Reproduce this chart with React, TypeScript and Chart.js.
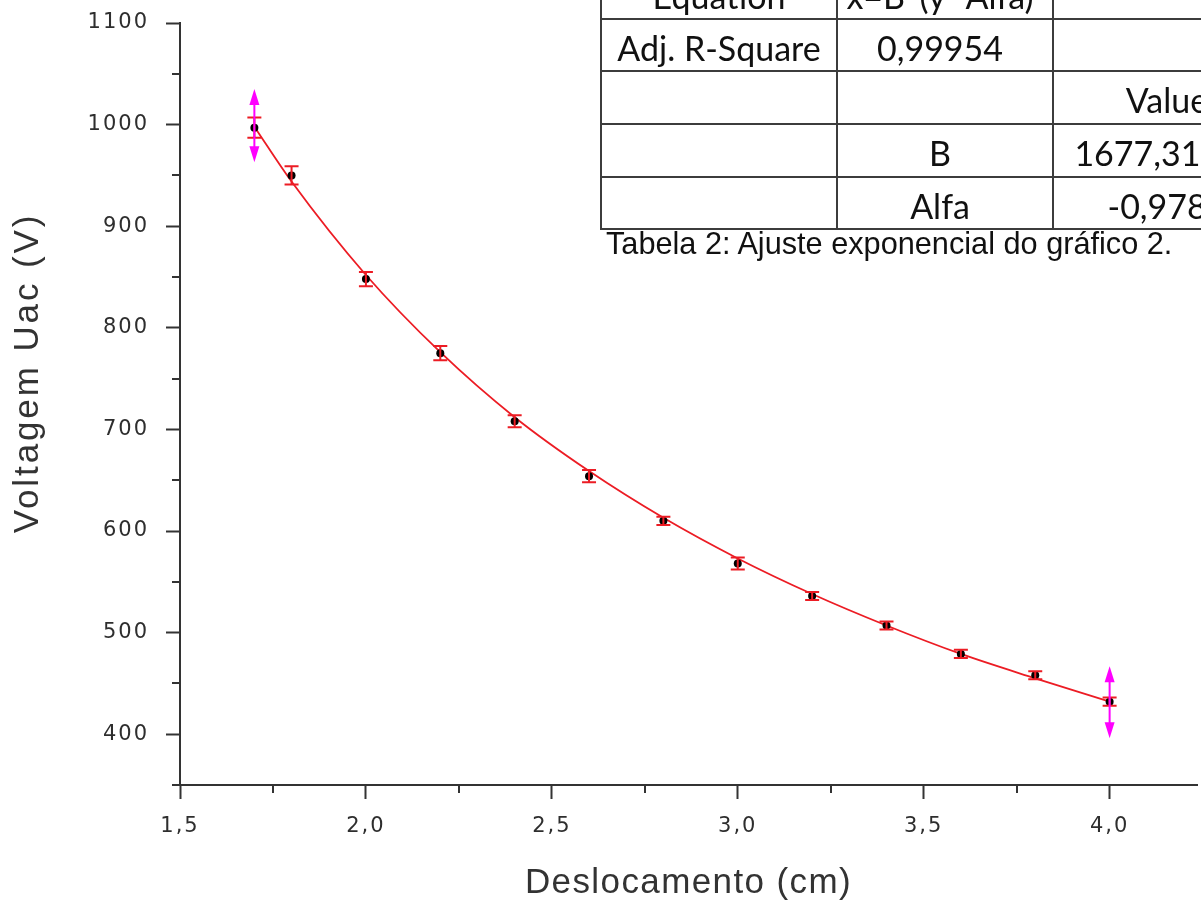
import React, { useEffect, useRef } from 'react';
import { Chart, registerables } from 'chart.js';

Chart.register(...registerables);

// ---- data ----
const displacement = [1.7, 1.8, 2.0, 2.2, 2.4, 2.6, 2.8, 3.0, 3.2, 3.4, 3.6, 3.8, 4.0];
const voltage = [997, 950, 848, 775, 708, 654, 610, 568, 536, 507, 479, 458, 432];
const voltageError = [10, 9, 7, 7, 6, 6, 4, 6, 4, 4, 4, 4, 4];
// red fitted curve, read at the same abscissas
const fitVoltage = [998, 944, 852, 776, 712, 659, 613, 573, 538, 507, 479, 455, 432];

const xMajorTicks = [1.5, 2.0, 2.5, 3.0, 3.5, 4.0];
const xMinorTicks = [1.75, 2.25, 2.75, 3.25, 3.75, 4.25];
const yMajorTicks = [400, 500, 600, 700, 800, 900, 1000, 1100];
const yMinorTicks = [350, 450, 550, 650, 750, 850, 950, 1050];

// magenta double-arrow markers at the ends of the fitted range
const markerX = [1.7, 4.0];
const markerTop = [1035, 467];
const markerBottom = [963, 396];

// fit-results table (text)
const tableRows = [
  ['Equation', 'x=B*(y^Alfa)', ''],
  ['Adj. R-Square', '0,99954', ''],
  ['', '', 'Value'],
  ['', 'B', '1677,31605'],
  ['', 'Alfa', '-0,9782'],
];
const tableCaption = 'Tabela 2: Ajuste exponencial do gráfico 2.';

const AXIS_COLOR = '#333333';
const LABEL_COLOR = '#2e2e2e';
const RED = '#ec1c24';
const MAGENTA = '#ff00ff';

function patchScale(scale: any, labelSpacing: string, titleSpacing: string, titleShiftY: number) {
  if (scale.__patched) return;
  scale.__patched = true;
  const origLabels = scale.drawLabels;
  const origTitle = scale.drawTitle;
  scale.drawLabels = function (area: any) {
    const ctx = this.ctx;
    ctx.save();
    ctx.letterSpacing = labelSpacing;
    origLabels.call(this, area);
    ctx.restore();
  };
  scale.drawTitle = function () {
    const ctx = this.ctx;
    ctx.save();
    ctx.letterSpacing = titleSpacing;
    ctx.translate(0, titleShiftY);
    origTitle.call(this);
    ctx.restore();
  };
}

const errorBarsPlugin = {
  id: 'errorBars',
  afterDatasetsDraw(chart: any) {
    const { ctx, scales } = chart;
    const xs = scales.x;
    const ys = scales.y;
    ctx.save();
    ctx.strokeStyle = RED;
    ctx.lineWidth = 2;
    displacement.forEach((xv, i) => {
      const px = xs.getPixelForValue(xv);
      const top = ys.getPixelForValue(voltage[i] + voltageError[i]);
      const bot = ys.getPixelForValue(voltage[i] - voltageError[i]);
      ctx.beginPath();
      ctx.moveTo(px, top);
      ctx.lineTo(px, bot);
      ctx.moveTo(px - 7, top);
      ctx.lineTo(px + 7, top);
      ctx.moveTo(px - 7, bot);
      ctx.lineTo(px + 7, bot);
      ctx.stroke();
    });
    ctx.restore();
  },
};

const markersPlugin = {
  id: 'markers',
  afterDatasetsDraw(chart: any) {
    const { ctx, scales } = chart;
    const xs = scales.x;
    const ys = scales.y;
    ctx.save();
    ctx.strokeStyle = MAGENTA;
    ctx.fillStyle = MAGENTA;
    ctx.lineWidth = 2;
    markerX.forEach((xv, i) => {
      const px = xs.getPixelForValue(xv);
      const t = ys.getPixelForValue(markerTop[i]);
      const b = ys.getPixelForValue(markerBottom[i]);
      ctx.beginPath();
      ctx.moveTo(px, t + 8);
      ctx.lineTo(px, b - 8);
      ctx.stroke();
      ctx.beginPath();
      ctx.moveTo(px, t);
      ctx.lineTo(px - 5, t + 16);
      ctx.lineTo(px + 5, t + 16);
      ctx.closePath();
      ctx.fill();
      ctx.beginPath();
      ctx.moveTo(px, b);
      ctx.lineTo(px - 5, b - 16);
      ctx.lineTo(px + 5, b - 16);
      ctx.closePath();
      ctx.fill();
    });
    ctx.restore();
  },
};

const minorTicksPlugin = {
  id: 'minorTicks',
  afterDraw(chart: any) {
    const { ctx, scales, chartArea } = chart;
    const xs = scales.x;
    const ys = scales.y;
    ctx.save();
    ctx.strokeStyle = AXIS_COLOR;
    ctx.lineWidth = 2;
    ctx.beginPath();
    xMinorTicks.forEach((v) => {
      if (v < xs.min || v > xs.max) return;
      const px = Math.round(xs.getPixelForValue(v));
      ctx.moveTo(px, chartArea.bottom);
      ctx.lineTo(px, chartArea.bottom + 8);
    });
    yMinorTicks.forEach((v) => {
      if (v < ys.min || v > ys.max) return;
      const py = Math.round(ys.getPixelForValue(v));
      ctx.moveTo(chartArea.left, py);
      ctx.lineTo(chartArea.left - 8, py);
    });
    ctx.stroke();
    ctx.restore();
  },
};

function FitTable() {
  const rowTops = [-33, 19, 71, 124, 177];
  const hLines = [19, 71, 124, 177, 229];
  const vLines = [601, 837, 1053];
  const colCenters = [719, 940, 1167];
  const lineColor = '#3c3c3c';
  return (
    <>
      {hLines.map((y, i) => (
        <div key={'h' + i} style={{ position: 'absolute', left: 600, top: y - 1, width: 700, height: 2, background: lineColor }} />
      ))}
      {vLines.map((x, i) => (
        <div key={'v' + i} style={{ position: 'absolute', left: x - 1, top: 0, width: 2, height: 230, background: lineColor }} />
      ))}
      {tableRows.map((row, r) =>
        row.map((txt, c) =>
          txt ? (
            <div
              key={r + '-' + c}
              style={{
                position: 'absolute',
                left: colCenters[c] - 150,
                width: 300,
                top: rowTops[r] + 12,
                height: 34,
                lineHeight: '34px',
                fontFamily: 'Lato, "Open Sans", sans-serif',
                fontSize: 34,
                color: '#111',
                textAlign: 'center',
                whiteSpace: 'nowrap',
              }}
            >
              {txt}
            </div>
          ) : null
        )
      )}
      <div
        style={{
          position: 'absolute',
          left: 606,
          top: 229,
          lineHeight: '30px',
          fontFamily: '"Liberation Sans", Arial, sans-serif',
          fontSize: 30.7,
          color: '#111',
          whiteSpace: 'nowrap',
        }}
      >
        {tableCaption}
      </div>
    </>
  );
}

export default function App() {
  const canvasRef = useRef<HTMLCanvasElement | null>(null);

  useEffect(() => {
    const canvas = canvasRef.current;
    if (!canvas) return;
    const points = displacement.map((x, i) => ({ x, y: voltage[i] }));
    const fitPoints = displacement.map((x, i) => ({ x, y: fitVoltage[i] }));
    const chart = new Chart(canvas, {
      type: 'scatter',
      data: {
        datasets: [
          {
            label: 'Voltagem',
            data: points,
            pointRadius: 4,
            pointBackgroundColor: '#000',
            pointBorderColor: '#000',
            pointBorderWidth: 0,
            showLine: false,
          },
          {
            label: 'Ajuste',
            data: fitPoints,
            showLine: true,
            borderColor: RED,
            borderWidth: 1.8,
            pointRadius: 0,
            cubicInterpolationMode: 'monotone',
            fill: false,
          } as any,
        ],
      },
      options: {
        responsive: false,
        animation: false,
        layout: { padding: { top: 23, right: 0, bottom: 0, left: 0 } },
        plugins: {
          legend: { display: false },
          tooltip: { enabled: false },
        },
        scales: {
          x: {
            type: 'linear',
            position: 'bottom',
            min: 1.5,
            max: 4.235,
            afterBuildTicks: (scale: any) => {
              scale.ticks = xMajorTicks.map((v) => ({ value: v }));
            },
            afterFit: (scale: any) => {
              scale.height = 116;
              scale.paddingLeft = 0;
              scale.paddingRight = 0;
              patchScale(scale, '2px', '1.4px', 0);
            },
            border: { color: AXIS_COLOR, width: 2 },
            grid: {
              drawOnChartArea: false,
              drawTicks: true,
              tickLength: 14,
              tickWidth: 2,
              tickColor: AXIS_COLOR,
            },
            ticks: {
              padding: 15,
              maxRotation: 0,
              autoSkip: false,
              color: LABEL_COLOR,
              font: { family: '"DejaVu Sans", sans-serif', size: 21 },
              callback: (v: any) => Number(v).toFixed(1).replace('.', ','),
            },
            title: {
              display: true,
              text: 'Deslocamento (cm)',
              color: AXIS_COLOR,
              padding: { top: 0, bottom: 0 },
              font: { family: '"Liberation Sans", Arial, sans-serif', size: 35, lineHeight: 1 },
            },
          },
          y: {
            type: 'linear',
            position: 'left',
            min: 350,
            max: 1100,
            afterBuildTicks: (scale: any) => {
              scale.ticks = yMajorTicks.map((v) => ({ value: v }));
            },
            afterFit: (scale: any) => {
              scale.width = 180;
              scale.paddingTop = 0;
              scale.paddingBottom = 0;
              patchScale(scale, '2px', '2.9px', -31);
            },
            border: { color: AXIS_COLOR, width: 2 },
            grid: {
              drawOnChartArea: false,
              drawTicks: true,
              tickLength: 14,
              tickWidth: 2,
              tickColor: AXIS_COLOR,
            },
            ticks: {
              padding: 17,
              autoSkip: false,
              color: LABEL_COLOR,
              font: { family: '"DejaVu Sans", sans-serif', size: 21 },
              callback: (v: any) => String(v),
            },
            title: {
              display: true,
              text: 'Voltagem Uac (V)',
              color: AXIS_COLOR,
              padding: { top: 11, bottom: 0 },
              font: { family: '"Liberation Sans", Arial, sans-serif', size: 35, lineHeight: 1 },
            },
          },
        },
      },
      plugins: [errorBarsPlugin, markersPlugin, minorTicksPlugin],
    });
    return () => chart.destroy();
  }, []);

  return (
    <div
      style={{
        position: 'fixed',
        left: 0,
        top: 0,
        width: 1201,
        height: 901,
        overflow: 'hidden',
        background: '#fff',
      }}
    >
      <canvas ref={canvasRef} width={1201} height={901} style={{ position: 'absolute', left: 0, top: 0, width: 1201, height: 901 }} />
      <FitTable />
    </div>
  );
}
